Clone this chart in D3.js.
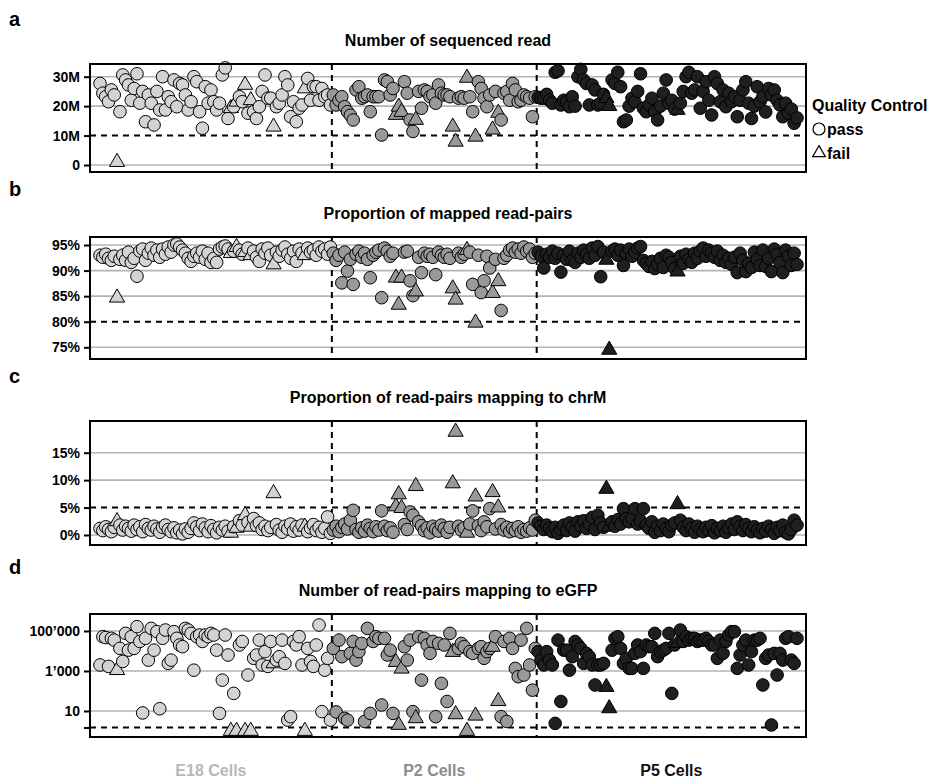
<!DOCTYPE html>
<html>
<head>
<meta charset="utf-8">
<title>Quality control of single cells</title>
<script src="https://d3js.org/d3.v7.min.js"></script>
<style>
  body { margin: 0; background: #fff; }
  text { font-family: "Liberation Sans", Arial, Helvetica, sans-serif; font-weight: bold; }
</style>
</head>
<body>
<script>
// ---- data ----
var groups = ['E18 Cells', 'P2 Cells', 'P5 Cells'];

// sequenced reads (millions)
var e18Reads = [27.7,24.4,23.2,21.5,25.5,23.8,1.0,18.1,30.6,28.9,
  27.2,22,26,31,21,25,14.7,23.8,21,13.6,
  25,18.7,30,18.7,23.2,21.5,28.9,19.8,27.7,27.2,
  23.8,18.7,21.5,30,28.3,18.1,12.5,26.6,21,25.5,
  21.5,18.7,21,30.6,33,15.8,19.3,19.8,21.5,23.2,
  21.5,27.2,17.6,22,18.1,15.8,19.8,25,30.6,22.7,
  22.7,13,19.8,21,23.8,30,27.2,16.4,21.5,14.7,
  19.3,20.4,26,29.4,22,26.6,26.6,22,26,23.2,
  23.8,20.4];
var p2Reads = [23.8,20.4,22.0,23.2,19.8,18.1,16.9,15.3,25.5,26.6,
  22.7,23.2,23.8,18.1,23.2,23.2,23.2,10.2,28.9,28.3,
  23.8,26,17,19.8,18,28.3,24.4,15.3,11.4,15.3,
  25,19.3,25.5,25,23.2,23.8,21,27.2,24.4,23.8,
  23.8,23.2,13,7.9,22.7,23.2,22.7,29.6,23.2,18.1,
  9.6,28.3,26,22.7,19.8,23.8,12,25,17.7,15.3,
  24.4,25,22,27.7,25.5,21.5,22,23.8,23.2,22.7,
  16.4,23.2];
var p5Reads = [23,22.7,22.7,24,22,21,31.5,32,20.4,22,
  21.5,19.8,23.2,20,30,32.5,28.9,27.7,20.4,27.2,
  25.5,20.4,21,24,22.7,20,28.9,27.7,31.5,26.6,
  14.7,15.3,20,22.7,21.5,25,31,19.3,18.1,20.4,
  22.7,18.1,15.3,20,24.4,28.9,21,22,19,18.7,
  21,25,30,31.5,24.4,25.5,30,19.3,25,28.3,
  22,17,30,27.7,21.5,25.5,19.8,24.4,21.5,23.2,
  16.4,22,25.5,28.3,21,15.8,20,26.6,21.5,23.2,
  18,26,23.8,25.5,22,20.4,16.4,21,17.6,19,
  14.2,16];

// proportion of mapped read-pairs (%)
var e18Mapped = [93.0,92.6,93.2,92.4,92.0,92.8,84.7,92.2,93.0,92.0,
  93.6,91.6,92.4,88.9,93.8,94.2,92.0,93.4,94.4,93.0,
  94.0,92.6,94.2,93.2,94.6,93.6,95.0,95.2,94.6,94.0,
  93.4,92.4,91.8,92.8,93.4,92.6,93.8,92.2,93.4,91.6,
  92.4,91.6,94.2,94.6,94.8,94.2,93.4,93.8,94.6,94.0,
  93.2,93.6,94.4,93.0,93.8,92.6,91.8,94.2,93.4,94.4,
  93.0,91.2,93.6,92.8,94.0,94.6,93.2,92.4,93.8,91.8,
  94.2,93.4,93.0,94.4,93.6,94.0,93.0,94.6,93.8,94.2,
  93.2,94.6];
var p2Mapped = [93.4,92.0,93.0,87.6,93.6,89.9,92.2,87.3,93.2,93.8,
  92.6,93.4,92.2,88.6,93.0,93.6,94.0,84.7,94.4,93.8,
  92.8,93.4,88.6,83.3,88.6,93.6,93.8,88.0,85.1,85.9,
  92.6,89.6,93.4,92.8,93.2,92.6,89.2,93.6,93.0,92.6,
  93.2,92.4,86.5,84.3,93.4,92.6,93.2,94.0,93.6,87.3,
  79.8,93.0,85.7,88.0,92.8,90.5,85.6,92.2,87.9,82.2,
  92.4,93.0,94.0,94.4,93.6,94.2,93.4,94.6,93.8,94.2,
  92.6,93.4];
var p5Mapped = [93.6,92.8,90.5,93.2,92.6,93.8,92.4,93.4,89.7,93.0,
  92.2,93.8,92.0,91.6,93.4,92.6,94.0,93.2,92.4,94.4,
  93.0,94.7,88.8,93.6,92.1,74.5,93.8,94.2,93.0,94.0,
  91.0,93.4,94.2,92.8,93.6,94.4,94.7,92.0,91.4,90.8,
  91.8,90.4,91.2,92.4,90.6,93.0,92.6,91.6,90.4,89.8,
  92.8,91.4,93.2,92.2,91.6,93.4,92.4,93.8,94.4,92.8,
  94.0,93.4,92.6,93.8,92.0,93.0,91.6,92.4,91.2,92.6,
  89.6,93.4,92.0,89.8,91.4,90.6,93.6,92.2,91.0,94.0,
  90.8,92.4,89.8,94.2,93.2,91.6,89.6,94.0,92.8,91.0,
  93.4,91.2];

// proportion of read-pairs mapping to chrM (%)
var e18ChrM = [1.2,0.8,1.5,1.0,0.6,1.4,2.5,1.8,0.9,1.6,
  1.2,0.7,1.8,1.0,1.5,0.6,1.9,1.2,0.9,1.6,
  1.1,0.5,1.4,1.8,1.0,0.6,1.3,0.4,0.9,0.2,
  1.1,0.5,1.2,2.2,1.5,0.8,2.0,1.3,0.6,1.7,
  1.0,0.4,1.4,0.9,1.6,0.7,0.4,1.5,1.3,2.6,
  1.8,3.6,2.3,1.5,3.0,1.7,2.2,1.0,1.6,0.8,
  1.4,7.6,1.9,0.9,0.5,1.6,1.1,2.0,0.7,1.5,
  0.9,1.8,1.5,0.6,1.3,1.9,0.8,1.4,0.5,1.2,
  3.3,0.3];
var p2ChrM = [0.9,1.6,0.6,1.4,2.0,1.1,2.7,4.5,1.0,0.5,
  1.3,0.7,1.8,1.2,0.6,1.5,0.9,4.4,1.6,0.8,
  1.3,0.5,5.2,7.4,4.9,1.9,1.0,4.2,3.6,8.9,
  2.4,1.7,0.8,1.3,0.4,1.6,1.1,0.7,1.8,1.2,
  0.5,1.4,9.4,18.8,1.6,0.9,1.3,0.4,2.0,4.4,
  7.0,1.7,0.8,2.4,1.5,4.8,7.8,1.1,5.0,1.9,
  0.9,1.4,0.6,1.2,0.8,1.5,0.5,1.0,0.7,1.3,
  0.9,2.7];
var p5ChrM = [2.2,1.6,1.0,1.8,1.2,0.6,1.4,0.3,1.0,1.8,
  0.8,2.2,1.4,0.7,2.4,1.6,2.6,1.2,2.0,3.2,
  1.0,3.6,2.2,1.4,8.4,1.5,2.4,1.6,2.8,2.0,
  4.8,3.0,2.4,3.0,4.8,2.0,2.6,4.8,1.8,1.2,
  2.4,0.5,1.6,0.8,2.0,1.2,0.6,1.8,2.2,5.6,
  2.7,1.4,0.8,2.0,1.2,0.5,1.6,1.0,0.6,1.4,
  0.9,1.7,0.4,1.2,0.8,1.6,0.5,1.3,2.0,1.0,
  2.4,1.6,0.8,1.9,1.2,0.6,1.5,0.9,0.4,1.2,
  0.7,1.6,1.0,0.3,1.4,0.8,1.8,0.5,0.2,1.0,
  2.7,1.8];

// read-pairs mapping to eGFP (counts)
var e18Egfp = [2000,52000,47000,1700,43000,35000,1100,13500,3000,76000,
  11000,52000,13500,165000,30000,8,43000,3500,135000,11000,
  93000,13,43000,112000,2400,3500,93000,43000,20000,16500,
  135000,112000,76000,1100,52000,63000,30000,63000,52000,76000,
  63000,11000,7.6,350,63000,6300,1,76,1,20000,
  30000,1,630,1,4300,6300,35000,2000,9300,1700,
  30000,2400,3500,5200,35000,2400,3.5,5.2,30000,20000,
  52000,2000,1,13500,3000,1700,20000,200000,9.3,1100,
  4300,3.5];
var p2Egfp = [13500,9,35000,5200,4.3,3.5,7600,30000,3500,9300,
  24000,3,135000,7.6,30000,52000,43000,20,43000,6300,
  11000,7.6,2800,2,1300,16500,3500,35000,9.3,4.3,
  52000,350,43000,20000,7600,30000,5.2,24000,240,20000,
  30,76000,8900,6.8,13500,24000,16500,1,9300,7600,
  5.8,13500,16500,4300,9300,13500,16000,52000,31,5.2,
  30000,3,43000,13500,1350,520,35000,630,135000,2000,
  110,13500];
var p5Egfp = [9300,3500,2000,9300,3500,2000,2.4,35000,30,11000,
  11000,1100,5200,30000,20000,13500,2400,7600,5200,2000,
  200,2000,2000,2400,158,13.6,11000,43000,52000,13500,
  2400,4300,1350,1350,7600,20000,9300,1350,20000,16500,
  16500,76000,5200,9300,11000,13500,76000,76,20000,25000,
  112000,30000,52000,35000,43000,43000,30000,35000,35000,43000,
  30000,20000,20000,4300,35000,7600,30000,63000,93000,93000,
  1350,6300,20000,35000,2000,9300,35000,35000,43000,200,
  4300,6300,2,7600,630,7600,3500,43000,52000,3500,
  2400,43000];

// cells (index within group) that failed quality control
var e18Fail = [6,46,48,51,53,61,72];
var p2Fail = [22,23,24,29,42,43,47,50,56,58];
var p5Fail = [24,25,49];

// axis ticks
var readTicks = [0, 10, 20, 30];
var readLabels = ['0', '10M', '20M', '30M'];
var mappedTicks = [75, 80, 85, 90, 95];
var mappedLabels = ['75%', '80%', '85%', '90%', '95%'];
var chrMTicks = [0, 5, 10, 15];
var chrMLabels = ['0%', '5%', '10%', '15%'];
var egfpTicks = [10, 1000, 100000];
var egfpLabels = ['10', '1\u2019000', '100\u2019000'];

// ---- styles / layout ----
var fills = ['#d3d3d3', '#999999', '#1f1f1f'];
var labelColors = ['#b8b8b8', '#8c8c8c', '#111111'];
var gridColor = '#b3b3b3';
var left = 90, right = 806;

var svg = d3.select('body').append('svg')
  .attr('width', 937).attr('height', 781);

var cells = [];
function addGroup(g, reads, mapped, chrM, egfp, fail) {
  reads.forEach(function(r, i) {
    cells.push({ group: g, reads: r, mapped: mapped[i], chrM: chrM[i],
                 egfp: egfp[i], fail: fail.indexOf(i) >= 0 });
  });
}
addGroup(0, e18Reads, e18Mapped, e18ChrM, e18Egfp, e18Fail);
addGroup(1, p2Reads, p2Mapped, p2ChrM, p2Egfp, p2Fail);
addGroup(2, p5Reads, p5Mapped, p5ChrM, p5Egfp, p5Fail);
cells.forEach(function(d, i) { d.idx = i; });

var x = d3.scaleLinear().domain([0, cells.length - 1]).range([100, 797]);

// divider positions: halfway between the last cell of a group and the first of the next
var bounds = [];
for (var i = 1; i < cells.length; i++) {
  if (cells[i].group !== cells[i - 1].group) bounds.push((x(i) + x(i - 1)) / 2);
}
var groupEdges = [left].concat(bounds).concat([right]);

var panels = [
  { key: 'reads', letter: 'a', title: 'Number of sequenced read', top: 64, bottom: 172, letterY: 26,
    y: d3.scaleLinear().domain([0, 30]).range([165, 76.7]),
    ticks: readTicks, labels: readLabels, threshold: 10 },
  { key: 'mapped', letter: 'b', title: 'Proportion of mapped read-pairs', top: 237, bottom: 359, letterY: 196,
    y: d3.scaleLinear().domain([75, 95]).range([347.3, 245]),
    ticks: mappedTicks, labels: mappedLabels, threshold: 80 },
  { key: 'chrM', letter: 'c', title: 'Proportion of read-pairs mapping to chrM', top: 421, bottom: 545, letterY: 383,
    y: d3.scaleLinear().domain([0, 15]).range([535, 452.7]),
    ticks: chrMTicks, labels: chrMLabels, threshold: 5 },
  { key: 'egfp', letter: 'd', title: 'Number of read-pairs mapping to eGFP', top: 614, bottom: 737, letterY: 574,
    y: d3.scaleLog().domain([10, 100000]).range([711, 631]),
    ticks: egfpTicks, labels: egfpLabels, threshold: 1.5 }
];

var tri = d3.symbol().type(d3.symbolTriangle).size(100);

panels.forEach(function(p) {
  var g = svg.append('g');

  g.append('text').attr('x', 9).attr('y', p.letterY)
    .attr('font-size', 20).text(p.letter);
  g.append('text').attr('x', (left + right) / 2).attr('y', p.top - 18)
    .attr('text-anchor', 'middle').attr('font-size', 16).text(p.title);

  // grid lines (threshold value gets a dashed black line instead)
  g.selectAll('line.grid').data(p.ticks.filter(function(t) { return t !== p.threshold; }))
    .enter().append('line')
    .attr('x1', left).attr('x2', right)
    .attr('y1', function(t) { return p.y(t); }).attr('y2', function(t) { return p.y(t); })
    .attr('stroke', gridColor).attr('stroke-width', 1.6);

  // y axis
  var axis = d3.axisLeft(p.y).tickValues(p.ticks.concat(p.ticks.indexOf(p.threshold) < 0 ? [p.threshold] : []))
    .tickFormat(function(t) { var k = p.ticks.indexOf(t); return k < 0 ? '' : p.labels[k]; })
    .tickSize(6).tickPadding(4);
  var ax = g.append('g').attr('transform', 'translate(' + left + ',0)').call(axis);
  ax.select('.domain').remove();
  ax.selectAll('line').attr('stroke', '#000').attr('stroke-width', 2);
  ax.selectAll('text').attr('font-size', 14).attr('fill', '#000')
    .style('font-family', '"Liberation Sans", Arial, sans-serif').style('font-weight', 'bold');

  g.append('line').attr('x1', left).attr('x2', right)
    .attr('y1', p.y(p.threshold)).attr('y2', p.y(p.threshold))
    .attr('stroke', '#000').attr('stroke-width', 2).attr('stroke-dasharray', '6,5');

  g.selectAll('line.divider').data(bounds).enter().append('line')
    .attr('x1', function(b) { return b; }).attr('x2', function(b) { return b; })
    .attr('y1', p.top).attr('y2', p.bottom)
    .attr('stroke', '#000').attr('stroke-width', 2).attr('stroke-dasharray', '6,5');

  // cells, drawn in order so later cells sit on top
  cells.forEach(function(d) {
    var cx = x(d.idx), cy = p.y(d[p.key]);
    if (d.fail) {
      g.append('path').attr('d', tri)
        .attr('transform', 'translate(' + cx + ',' + cy + ')')
        .attr('fill', fills[d.group]).attr('stroke', '#000').attr('stroke-width', 1);
    } else {
      g.append('circle').attr('cx', cx).attr('cy', cy).attr('r', 6.3)
        .attr('fill', fills[d.group]).attr('stroke', '#000').attr('stroke-width', 1);
    }
  });

  g.append('rect').attr('x', left).attr('y', p.top)
    .attr('width', right - left).attr('height', p.bottom - p.top)
    .attr('fill', 'none').attr('stroke', '#000').attr('stroke-width', 2);
});

// group labels under the last panel
svg.selectAll('text.group').data(groups).enter().append('text')
  .attr('x', function(d, i) { return (groupEdges[i] + groupEdges[i + 1]) / 2; })
  .attr('y', 776).attr('text-anchor', 'middle').attr('font-size', 16)
  .attr('fill', function(d, i) { return labelColors[i]; })
  .text(function(d) { return d; });

// legend
var leg = svg.append('g');
leg.append('text').attr('x', 812).attr('y', 111).attr('font-size', 16).text('Quality Control');
leg.append('circle').attr('cx', 819).attr('cy', 129).attr('r', 6)
  .attr('fill', 'none').attr('stroke', '#000').attr('stroke-width', 1.2);
leg.append('text').attr('x', 827).attr('y', 135).attr('font-size', 16).text('pass');
leg.append('path').attr('d', d3.symbol().type(d3.symbolTriangle).size(70))
  .attr('transform', 'translate(819,153)')
  .attr('fill', 'none').attr('stroke', '#000').attr('stroke-width', 1.2);
leg.append('text').attr('x', 827).attr('y', 159).attr('font-size', 16).text('fail');
</script>
</body>
</html>
